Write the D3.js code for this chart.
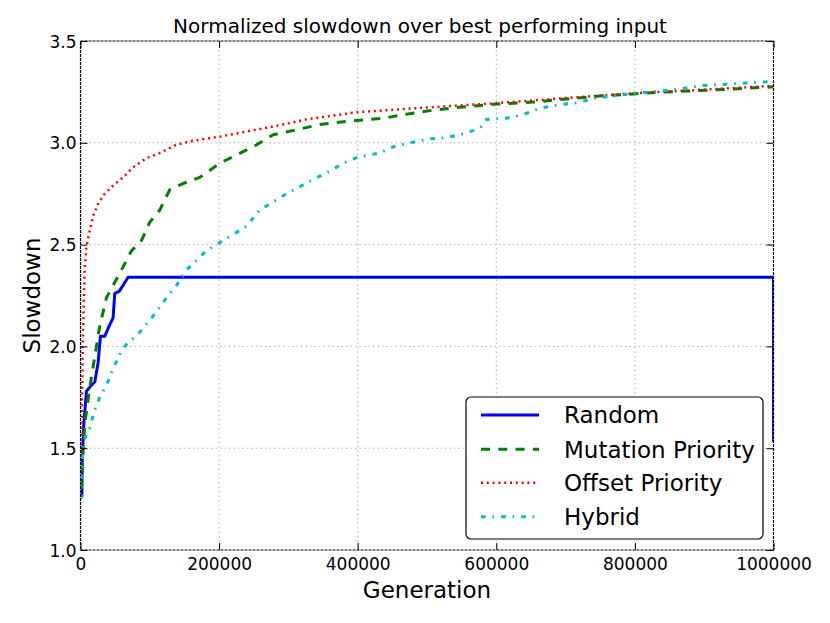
<!DOCTYPE html>
<html><head><meta charset="utf-8">
<script src="https://cdn.jsdelivr.net/npm/d3@7"></script>
<style>body{margin:0;background:#fff;} svg{display:block;font-family:"DejaVu Sans",sans-serif;}</style>
</head><body><div id="chart"></div>
<script>
const title = "Normalized slowdown over best performing input";
const xLabel = "Generation";
const yLabel = "Slowdown";
const xTicks = [0, 200000, 400000, 600000, 800000, 1000000];
const yTicks = [1.0, 1.5, 2.0, 2.5, 3.0, 3.5];
const seriesNames = ["Random", "Mutation Priority", "Offset Priority", "Hybrid"];

const randomX = [1900, 2500, 4800, 8600, 15900, 20600, 25400, 28800, 35000, 41300, 47000, 49500, 55700, 61500, 68700, 1000000, 1000000];
const randomY = [1.26, 1.45, 1.62, 1.78, 1.81, 1.825, 1.92, 2.05, 2.05, 2.10, 2.14, 2.26, 2.27, 2.30, 2.34, 2.34, 1.53];

const mutationX = [1500, 2900, 6200, 13400, 20600, 27800, 37500, 56700, 73600, 88000, 100000, 114400, 128900, 148000, 172000, 201000, 225000, 254000, 278000, 307000, 345000, 398000, 436000, 470000, 508000, 547000, 600000, 653000, 701000, 749000, 797000, 845000, 918000, 1000000];
const mutationY = [1.3, 1.43, 1.62, 1.80, 1.95, 2.10, 2.24, 2.36, 2.47, 2.52, 2.61, 2.67, 2.77, 2.80, 2.83, 2.90, 2.94, 2.99, 3.04, 3.06, 3.09, 3.11, 3.12, 3.14, 3.16, 3.175, 3.19, 3.20, 3.215, 3.23, 3.24, 3.25, 3.26, 3.275];

const offsetX = [1000, 1500, 3500, 6000, 8600, 13400, 18200, 25400, 35000, 47000, 61500, 75900, 95200, 114400, 138000, 162000, 201000, 239000, 278000, 326000, 398000, 485000, 600000, 701000, 797000, 894000, 1000000];
const offsetY = [1.45, 1.55, 2.05, 2.38, 2.49, 2.57, 2.64, 2.70, 2.75, 2.79, 2.83, 2.88, 2.925, 2.95, 2.99, 3.01, 3.03, 3.055, 3.08, 3.115, 3.15, 3.17, 3.195, 3.22, 3.243, 3.26, 3.28];

const hybridX = [500, 3800, 13400, 20600, 27800, 37500, 47000, 59200, 66400, 83100, 95200, 109700, 124100, 138500, 153000, 181800, 205800, 239500, 258700, 297300, 316500, 335600, 359700, 378900, 400600, 431900, 451100, 475200, 504000, 528100, 552100, 566500, 578600, 585900, 600300, 624200, 643600, 662800, 686900, 715700, 744600, 778200, 821500, 855100, 893600, 941700, 989900, 1000000];
const hybridY = [1.25, 1.53, 1.60, 1.69, 1.75, 1.81, 1.89, 1.98, 2.01, 2.06, 2.11, 2.17, 2.24, 2.30, 2.375, 2.47, 2.52, 2.59, 2.67, 2.75, 2.785, 2.82, 2.86, 2.90, 2.93, 2.95, 2.98, 3.00, 3.02, 3.025, 3.045, 3.06, 3.08, 3.115, 3.117, 3.125, 3.145, 3.17, 3.185, 3.196, 3.22, 3.235, 3.25, 3.26, 3.28, 3.29, 3.30, 3.305];

const W = 830, H = 623;
const L = 80.5, R = 773.5, T = 41, B = 550;
const svg = d3.select("#chart").append("svg").attr("width", W).attr("height", H);
const x = d3.scaleLinear().domain([0, 1000000]).range([L, R]);
const y = d3.scaleLinear().domain([1.0, 3.5]).range([B, T]);

svg.append("defs").append("clipPath").attr("id", "clip").append("rect")
  .attr("x", L).attr("y", T).attr("width", R - L).attr("height", B - T);

// grid
const g = svg.append("g");
g.selectAll(".gx").data(xTicks.slice(1, -1)).join("line")
  .attr("x1", d => x(d)).attr("x2", d => x(d)).attr("y1", T).attr("y2", B)
  .attr("stroke", "#b0b0b0").attr("stroke-width", 1).attr("stroke-dasharray", "1.5,3");
g.selectAll(".gy").data(yTicks.slice(1, -1)).join("line")
  .attr("y1", d => y(d)).attr("y2", d => y(d)).attr("x1", L).attr("x2", R)
  .attr("stroke", "#b0b0b0").attr("stroke-width", 1).attr("stroke-dasharray", "1.5,3");

// series
const styles = [
  {xs: randomX, ys: randomY, color: "#0000ff", w: 3, dash: null},
  {xs: mutationX, ys: mutationY, color: "#008000", w: 3, dash: "9,8.3"},
  {xs: offsetX, ys: offsetY, color: "#ff0000", w: 2.5, dash: "2,3.8"},
  {xs: hybridX, ys: hybridY, color: "#00bfbf", w: 3, dash: "4.7,6.7,1.7,7"}
];
const line = d3.line().x(d => x(d[0])).y(d => y(d[1]));
const plot = svg.append("g").attr("clip-path", "url(#clip)");
styles.forEach(s => {
  plot.append("path").datum(s.xs.map((v, i) => [v, s.ys[i]]))
    .attr("d", line).attr("fill", "none").attr("stroke", s.color)
    .attr("stroke-width", s.w).attr("stroke-dasharray", s.dash)
    .attr("stroke-linejoin", "round");
});

// axes with inward ticks
const tickLen = 7;
const axB = svg.append("g").attr("transform", `translate(0,${B})`)
  .call(d3.axisBottom(x).tickValues(xTicks).tickSize(-tickLen).tickPadding(10).tickFormat(d3.format("d")));
const axT = svg.append("g").attr("transform", `translate(0,${T})`)
  .call(d3.axisTop(x).tickValues(xTicks).tickSize(-tickLen).tickFormat(""));
const axL = svg.append("g").attr("transform", `translate(${L},0)`)
  .call(d3.axisLeft(y).tickValues(yTicks).tickSize(-tickLen).tickPadding(6).tickFormat(d3.format(".1f")));
const axR = svg.append("g").attr("transform", `translate(${R},0)`)
  .call(d3.axisRight(y).tickValues(yTicks).tickSize(-tickLen).tickFormat(""));
[axB, axT, axL, axR].forEach(a => {
  a.select(".domain").remove();
  a.selectAll(".tick line").attr("stroke", "#000").attr("stroke-width", 1);
  a.selectAll("text").attr("font-size", 17).attr("fill", "#000").attr("font-family", "DejaVu Sans");
});
axB.selectAll("text").attr("dy", null).attr("y", 20);
axL.selectAll("text").attr("x", -4).attr("dy", "0.36em");

// frame
svg.append("rect").attr("x", L).attr("y", T).attr("width", R - L).attr("height", B - T)
  .attr("fill", "none").attr("stroke", "#000").attr("stroke-width", 1.2).attr("stroke-dasharray", "3,1");

// texts
svg.append("text").attr("x", 420).attr("y", 33).attr("text-anchor", "middle")
  .attr("font-size", 20).text(title);
svg.append("text").attr("x", (L + R) / 2).attr("y", 598).attr("text-anchor", "middle")
  .attr("font-size", 23).text(xLabel);
svg.append("text").attr("transform", `translate(40,${(T + B) / 2}) rotate(-90)`)
  .attr("text-anchor", "middle").attr("font-size", 23).text(yLabel);

// legend
const lg = svg.append("g");
lg.append("rect").attr("x", 466).attr("y", 397).attr("width", 297).attr("height", 142)
  .attr("rx", 5).attr("fill", "#fff").attr("stroke", "#000").attr("stroke-width", 1.2);
const rowY = [415, 449.3, 482.7, 516.7];
styles.forEach((s, i) => {
  lg.append("line").attr("x1", 481).attr("x2", 539).attr("y1", rowY[i]).attr("y2", rowY[i])
    .attr("stroke", s.color).attr("stroke-width", s.w).attr("stroke-dasharray", s.dash);
  lg.append("text").attr("x", 564).attr("y", rowY[i] + 8.4).attr("font-size", 23).text(seriesNames[i]);
});
</script></body></html>
